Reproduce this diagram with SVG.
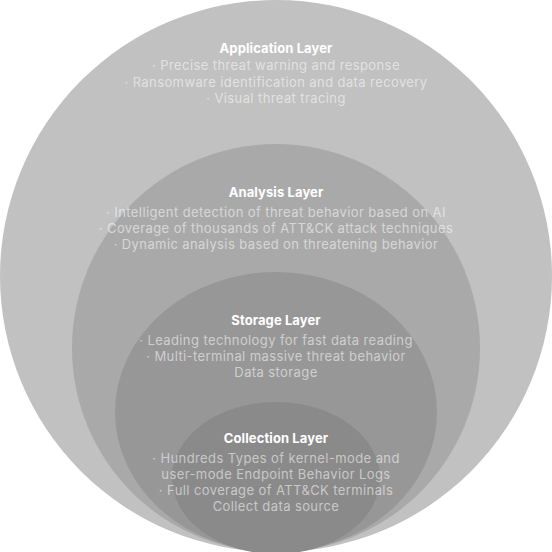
<svg xmlns="http://www.w3.org/2000/svg" width="552" height="552" viewBox="0 0 552 552">
<style>
.t{font-family:Inter,"Liberation Sans",Arial,sans-serif;font-size:13px;font-weight:700;letter-spacing:0.1px;fill:#ffffff;text-anchor:middle}
.b{font-family:Inter,"Liberation Sans",Arial,sans-serif;font-size:13px;letter-spacing:0.4px;fill:#ffffff;fill-opacity:0.55;text-anchor:middle}
</style>
<rect width="552" height="552" fill="#ffffff"/>
<g id="application-layer">
<circle cx="276" cy="276" r="276" fill="#c1c1c1"/>
<text class="t" x="276" y="52.5">Application Layer</text>
<text class="b" x="276" y="70">· Precise threat warning and response</text>
<text class="b" x="276" y="86.5">· Ransomware identification and data recovery</text>
<text class="b" x="276" y="103">· Visual threat tracing</text>
</g>
<g id="analysis-layer">
<circle cx="276" cy="348" r="204" fill="#a9a9a9"/>
<text class="t" x="276" y="196.5">Analysis Layer</text>
<text class="b" x="276" y="216.5">· Intelligent detection of threat behavior based on AI</text>
<text class="b" x="276" y="232.5">· Coverage of thousands of ATT&amp;CK attack techniques</text>
<text class="b" x="276" y="248.5">· Dynamic analysis based on threatening behavior</text>
</g>
<g id="storage-layer">
<ellipse cx="276" cy="412" rx="161" ry="140" fill="#979797"/>
<text class="t" x="276" y="324.5">Storage Layer</text>
<text class="b" x="276" y="344.5">· Leading technology for fast data reading</text>
<text class="b" x="276" y="360.5">· Multi-terminal massive threat behavior</text>
<text class="b" x="276" y="376.5">Data storage</text>
</g>
<g id="collection-layer">
<ellipse cx="276" cy="478" rx="104" ry="76" fill="#8a8a8a"/>
<text class="t" x="276" y="442.5">Collection Layer</text>
<text class="b" x="276" y="462.5">· Hundreds Types of kernel-mode and</text>
<text class="b" x="276" y="478.5">user-mode Endpoint Behavior Logs</text>
<text class="b" x="276" y="494.5">· Full coverage of ATT&amp;CK terminals</text>
<text class="b" x="276" y="510.5">Collect data source</text>
</g>
</svg>
